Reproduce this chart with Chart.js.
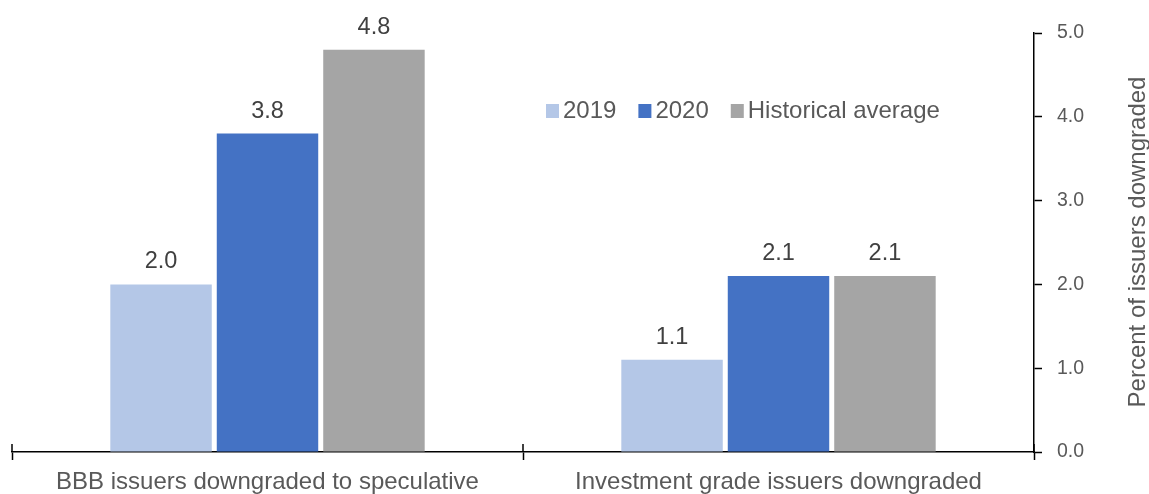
<!DOCTYPE html>
<html>
<head>
<meta charset="utf-8">
<script src="https://cdn.jsdelivr.net/npm/chart.js@4.4.0/dist/chart.umd.min.js"></script>
<style>
  body { margin: 0; background: #fff; }
</style>
</head>
<body>
<canvas id="myChart" width="1149" height="494"></canvas>
<script>
// data
const categories = ['BBB issuers downgraded to speculative', 'Investment grade issuers downgraded'];
const seriesNames = ['2019', '2020', 'Historical average'];
const values2019 = [2.0, 1.1];
const values2020 = [3.8, 2.1];
const valuesHist = [4.8, 2.1];
const yMin = 0, yMax = 5, yStep = 1;
const yTitle = 'Percent of issuers downgraded';

const barColors = ['#B4C7E7', '#4472C4', '#A5A5A5'];
const FONT = '"Liberation Sans", Arial, sans-serif';

// numbers above each bar
const valueLabels = {
    id: 'valueLabels',
    afterDatasetsDraw(chart) {
        const ctx = chart.ctx;
        ctx.save();
        ctx.font = '23.5px ' + FONT;
        ctx.fillStyle = '#404040';
        ctx.textAlign = 'center';
        ctx.textBaseline = 'alphabetic';
        chart.data.datasets.forEach((ds, i) => {
            chart.getDatasetMeta(i).data.forEach((bar, j) => {
                ctx.fillText(ds.data[j].toFixed(1), bar.x, bar.y - 16);
            });
        });
        ctx.restore();
    }
};

// legend inside the plot, y title reading upwards, tick marks crossing the x axis
const extras = {
    id: 'extras',
    afterDraw(chart) {
        const ctx = chart.ctx;
        const xs = chart.scales.x;
        ctx.save();

        // upper half of the x axis tick marks
        ctx.strokeStyle = '#000';
        ctx.lineWidth = 1.5;
        const n = categories.length;
        for (let i = 0; i <= n; i++) {
            const x = Math.round(xs.left + i * xs.width / n);
            ctx.beginPath();
            ctx.moveTo(x, xs.top - 8);
            ctx.lineTo(x, xs.top);
            ctx.stroke();
        }

        // y axis title
        ctx.font = '24px ' + FONT;
        ctx.fillStyle = '#595959';
        ctx.textAlign = 'center';
        ctx.textBaseline = 'alphabetic';
        ctx.save();
        ctx.translate(1145, 242);
        ctx.rotate(-Math.PI / 2);
        ctx.fillText(yTitle, 0, 0);
        ctx.restore();

        // legend
        ctx.font = '24px ' + FONT;
        ctx.textAlign = 'left';
        let lx = 546;
        chart.data.datasets.forEach(ds => {
            ctx.fillStyle = ds.backgroundColor;
            ctx.fillRect(lx, 104, 13, 14);
            lx += 17;
            ctx.fillStyle = '#595959';
            ctx.fillText(ds.label, lx, 118);
            lx += ctx.measureText(ds.label).width + 22;
        });
        ctx.restore();
    }
};

const ctx = document.getElementById('myChart').getContext('2d');
const myChart = new Chart(ctx, {
    type: 'bar',
    data: {
        labels: categories,
        datasets: [
            { label: seriesNames[0], data: values2019, backgroundColor: barColors[0] },
            { label: seriesNames[1], data: values2020, backgroundColor: barColors[1] },
            { label: seriesNames[2], data: valuesHist, backgroundColor: barColors[2] }
        ]
    },
    options: {
        responsive: false,
        animation: false,
        devicePixelRatio: 1,
        categoryPercentage: 0.625,
        barPercentage: 0.953,
        layout: { padding: { left: 12, top: 33, right: 0, bottom: 0 } },
        plugins: {
            legend: { display: false },
            tooltip: { enabled: false }
        },
        scales: {
            x: {
                grid: { drawOnChartArea: false, color: '#000', tickLength: 8, tickWidth: 1.5 },
                border: { color: '#000', width: 1.5 },
                ticks: { color: '#595959', font: { family: FONT, size: 24 }, padding: 8, maxRotation: 0, autoSkip: false },
                afterFit(scale) { scale.height = 42; }
            },
            y: {
                position: 'right',
                min: yMin,
                max: yMax,
                grid: { drawOnChartArea: false, color: '#000', tickLength: 8, tickWidth: 1.5 },
                border: { color: '#000', width: 1.5 },
                ticks: {
                    stepSize: yStep,
                    color: '#595959',
                    font: { family: FONT, size: 19.5 },
                    padding: 15,
                    callback: v => v.toFixed(1)
                },
                afterFit(scale) { scale.width = 115; }
            }
        }
    },
    plugins: [valueLabels, extras]
});
</script>
</body>
</html>
